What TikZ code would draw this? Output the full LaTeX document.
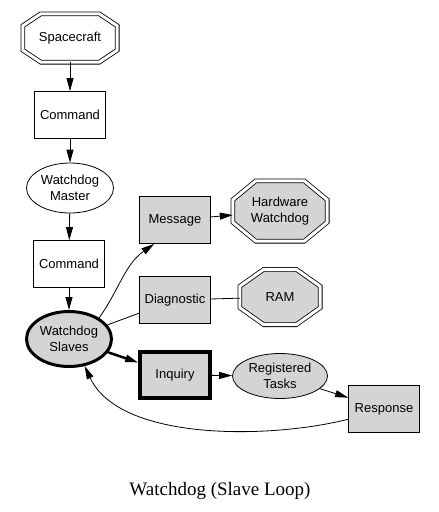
\documentclass[tikz,border=0pt]{standalone}
\usepackage{fontspec}
\setmainfont{Liberation Sans}
\newfontfamily\capfont{Liberation Serif}
\usetikzlibrary{arrows.meta,shapes.geometric,calc}
\pgfdeclarelayer{bg}
\pgfsetlayers{bg,main}
% double octagon drawn behind a node: node, chamfer x, chamfer y, fill
\newcommand\octframe[4]{%
\begin{pgfonlayer}{bg}
\draw[double, double distance=3pt, line width=0.8pt, fill=#4] ($(#1.north west)+(#2,0)$) -- ($(#1.north east)+(-#2,0)$) -- ($(#1.north east)+(0,#3)$) -- ($(#1.south east)+(0,-#3)$) -- ($(#1.south east)+(-#2,0)$) -- ($(#1.south west)+(#2,0)$) -- ($(#1.south west)+(0,-#3)$) -- ($(#1.north west)+(0,#3)$) -- cycle;
\end{pgfonlayer}}

\begin{document}
\begin{tikzpicture}[x=1pt, y=-1pt, every node/.style={font=\fontsize{13}{16}\selectfont}, box/.style={rectangle, draw=black, line width=0.8pt, align=center, minimum width=71pt, minimum height=47pt, inner sep=0pt}, gbox/.style={box, fill=black!17}, oval/.style={ellipse, draw=black, line width=0.8pt, align=center, inner sep=0pt}, octo/.style={rectangle, align=center, inner sep=0pt}, arrow/.style={-{Triangle[length=13pt, width=7pt]}, line width=0.8pt}]
\useasboundingbox (0,0) rectangle (439,512);
\node[octo, minimum width=94pt, minimum height=48pt] (sc) at (70,38) {Spacecraft};
\node[box] (cmd1) at (70,115) {Command};
\node[oval, minimum width=87pt, minimum height=50pt] (wm) at (70,188) {Watchdog\\Master};
\node[box] (cmd2) at (69,264) {Command};
\node[oval, fill=black!17, line width=3pt, minimum width=85pt, minimum height=55pt] (ws) at (69,339) {Watchdog\\Slaves};
\node[gbox] (msg) at (175,220) {Message};
\node[octo, minimum width=94pt, minimum height=60pt] (hw) at (280,211) {Hardware\\Watchdog};
\node[gbox] (diag) at (175,300) {Diagnostic};
\node[octo, minimum width=80pt, minimum height=55pt] (ram) at (280,297) {RAM};
\node[gbox, line width=3.5pt, minimum width=70pt, minimum height=46pt] (inq) at (175,375) {Inquiry};
\node[oval, fill=black!17, minimum width=95pt, minimum height=45pt] (rt) at (280,376) {Registered\\Tasks};
\node[gbox] (resp) at (384,409) {Response};
\node[font=\capfont\fontsize{19}{22}\selectfont] (cap) at (220,491) {Watchdog (Slave Loop)};
\octframe{sc}{18}{12}{white}
\octframe{hw}{23}{19}{black!17}
\octframe{ram}{24}{17}{black!17}
% main chain
\draw[arrow] (sc) -- (cmd1);
\draw[arrow] (cmd1) -- (wm);
\draw[arrow] (wm) -- (cmd2);
\draw[arrow] (cmd2) -- (ws);
% slave loop
\draw[arrow] (ws.35) to[out=55, in=215] (msg.229);
\draw[line width=0.8pt] (ws) -- (diag);
\draw[arrow, line width=2.5pt] (ws) -- (inq);
\draw[arrow] (msg) -- (hw);
\draw[line width=0.8pt] (diag) -- (ram);
\draw[arrow] (inq) -- (rt);
\draw[arrow] (rt) -- (resp);
\draw[arrow] (resp.196) .. controls +(-80,20) and +(35,75) .. (ws.300);
\end{tikzpicture}
\end{document}
